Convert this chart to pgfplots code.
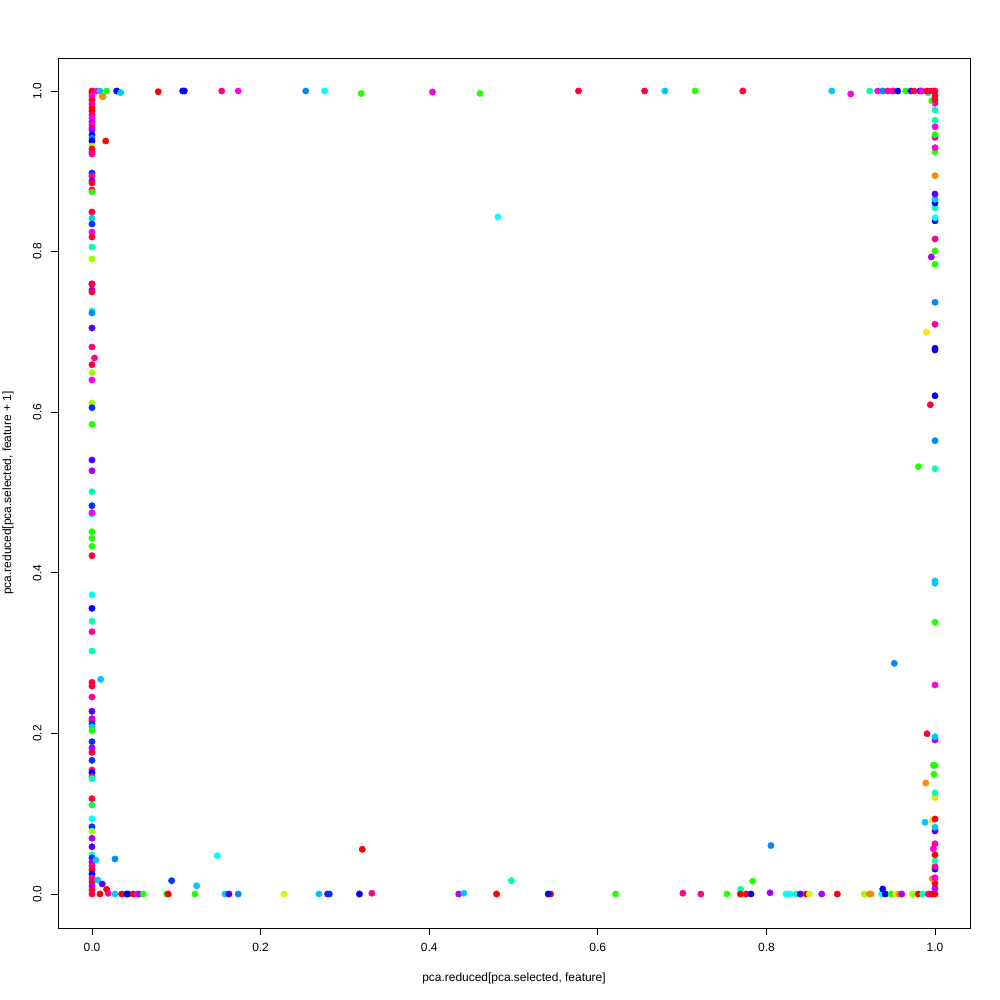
\documentclass[border=0pt]{standalone}
\usepackage{fontspec}
\setmainfont{Liberation Sans}
\usepackage{pgfplots}
\pgfplotsset{compat=1.18}
\usepackage{pgfplotstable}
\definecolor{cRd}{HTML}{FF0000}
\definecolor{cCr}{HTML}{FF0038}
\definecolor{cPk}{HTML}{FF0090}
\definecolor{cMg}{HTML}{FF00E6}
\definecolor{cPu}{HTML}{AA00FF}
\definecolor{cVi}{HTML}{5500FF}
\definecolor{cBl}{HTML}{0000FF}
\definecolor{cBb}{HTML}{0033FF}
\definecolor{cAz}{HTML}{0088FF}
\definecolor{cSk}{HTML}{00C8FF}
\definecolor{cCy}{HTML}{00FFFF}
\definecolor{cAq}{HTML}{00FFB0}
\definecolor{cSp}{HTML}{00FF55}
\definecolor{cGr}{HTML}{22FF00}
\definecolor{cLi}{HTML}{99FF00}
\definecolor{cCh}{HTML}{CCFF00}
\definecolor{cYe}{HTML}{FFE600}
\definecolor{cOr}{HTML}{FF8800}
\pgfplotstableread{
x y c
0 1.000 cr
0 0.9975 rd
0 0.9938 mg
0 0.9888 cr
0 0.9838 pk
0 0.9788 cr
0 0.9751 rd
0 0.9700 pk
0 0.9664 mg
0 0.9614 pu
0 0.9577 mg
0 0.9539 cr
0 0.9514 pu
0 0.9452 bl
0 0.9415 az
0 0.9377 bl
0.0163 0.9377 rd
0 0.9315 li
0 0.9277 cr
0 0.9240 cr
0 0.9215 pk
0 0.8979 bb
0 0.8941 pk
0 0.8879 vi
0 0.8854 cr
0 0.8767 cr
0 0.8742 gr
0 0.8493 cr
0 0.8418 sk
0 0.8344 bb
0 0.8244 mg
0 0.8182 cr
0 0.8057 aq
0 0.7908 li
0 0.7597 bl
0 0.7597 cr
0 0.7522 pu
0 0.7497 cr
0 0.7260 aq
0 0.7235 az
0 0.7049 vi
0 0.6812 pk
0.003 0.6675 pk
0 0.6592 cr
0 0.6492 li
0 0.6401 mg
0 0.6115 li
0 0.6056 bb
0 0.5849 gr
0 0.5405 vi
0 0.5271 pu
0 0.5010 aq
0 0.4836 bb
0 0.4732 cy
0 0.4748 mg
0 0.4512 gr
0 0.4430 gr
0 0.4330 gr
0 0.4213 cr
0 0.3727 cy
0 0.3558 bl
0 0.3396 aq
0 0.3266 pk
0 0.3026 aq
0.0103 0.2674 sk
0 0.2636 cr
0 0.2590 cr
0 0.2453 pk
0 0.2275 vi
0 0.2183 pu
0 0.2154 pk
0 0.2117 bb
0 0.2083 sk
0 0.2034 gr
0 0.1897 bb
0 0.1822 pu
0 0.1765 cr
0 0.1665 bb
0 0.1544 pk
0 0.1511 bl
0 0.1461 pk
0 0.1436 aq
0 0.1187 cr
0 0.1108 sp
0 0.0938 cy
0 0.0838 bb
0 0.0781 li
0 0.0694 pu
0 0.0589 vi
0 0.0486 aq
0 0.0450 bb
0 0.0400 pu
0 0.0350 pk
0 0.0300 cr
0 0.0250 bl
0 0.0200 pk
0 0.0150 cr
0 0.0100 pu
0 0.0050 cr
0 0.0000 cr
0.0273 0.0436 az
0.0047 0.0423 sk
0.0068 0.0174 sk
0.0122 0.0125 vi
0.0174 0.0059 rd
0.0193 0.0009 pk
0.0095 0 rd
0.0273 0 sk
0.0352 0 rd
0.0412 0 bl
0.0427 0 bl
0.0490 0 rd
0.0537 0 mg
0.0558 0 pu
0.0609 0 gr
0.0886 0 gr
0.0905 0 rd
0.1222 0 gr
0.1578 0 sk
0.1625 0 vi
0.1735 0 az
0.1486 0.0477 cy
0.0945 0.0166 bb
0.1242 0.0103 sk
0.2279 0 ch
0.3206 0.0557 rd
0.2692 0 sk
0.2794 0 vi
0.2815 0 bb
0.3173 0 bl
0.3320 0.001 pk
0.4350 0 pu
0.4411 0.001 sk
0.4799 0 rd
0.4975 0.0167 aq
0.5440 0 rd
0.5412 0 bl
0.6212 0 gr
0.7009 0.001 pk
0.7222 0 pk
0.7532 0 gr
0.7695 0.0060 aq
0.7691 0 rd
0.7760 0 rd
0.7817 0 bl
0.7838 0.0160 gr
0.8043 0.0015 pu
0.8054 0.0604 az
0.8247 0 cy
0.8232 0 cy
0.8280 0 cy
0.8359 0 aq
0.8402 0 vi
0.8470 0 rd
0.8509 0 ch
0.8656 0 pu
0.8841 0 rd
0.9161 0 li
0.9221 0 or
0.9241 0 or
0.9368 0 cy
0.9410 0 bl
0.9478 0 gr
0.9534 0 ye
0.9573 0 or
0.9605 0 pu
0.9735 0 li
0.9802 0 rd
0.9854 0 aq
0.9921 0 pk
0.9961 0 rd
0.9380 0.0062 bl
1 0 rd
1 0.0071 pu
1 0.0133 rd
0.9968 0.0191 or
1 0.0203 mg
1 0.0311 bl
1 0.0340 pk
1 0.0411 aq
1 0.0489 rd
0.998 0.0564 mg
1 0.0626 pk
1 0.0785 vi
1 0.0831 sk
0.9881 0.0893 sk
0.9968 0.0922 ye
1 0.0934 rd
1 0.1199 ye
1 0.1258 aq
0.9890 0.1382 or
0.9988 0.1491 gr
0.998 0.1603 gr
1 0.1603 gr
1 0.1918 pu
1 0.1959 sk
0.9905 0.1996 cr
1 0.2603 mg
0.9517 0.2873 az
1 0.3384 gr
1 0.3870 sk
1 0.3898 sk
1 0.5295 aq
0.9802 0.5321 gr
1 0.5645 az
0.9944 0.6093 cr
1 0.6205 bl
1 0.6775 bl
1 0.6796 bl
0.9897 0.6995 ye
1 0.7095 pk
1 0.7369 az
1 0.7842 gr
0.9956 0.7933 pu
1 0.8007 ye
1 0.8007 gr
1 0.8157 pk
1 0.8384 bl
1 0.8422 cy
1 0.8543 aq
1 0.8605 bl
1 0.8651 sk
1 0.8717 vi
1 0.8945 or
1 0.9240 gr
1 0.9294 mg
1 0.9423 pk
1 0.9456 gr
1 0.9555 mg
1 0.9635 aq
1 0.9763 aq
1 0.9847 mg
0.9961 0.9879 gr
1 0.9888 cr
1 0.9940 cr
1 1 cr
0.0056 1 mg
0.0095 1 sk
0.0174 1 gr
0.0134 0.9929 aq
0.0120 0.9935 or
0.0293 1 bl
0.0340 0.9979 sk
0.0786 0.9991 rd
0.1076 1 bl
0.1095 1 bl
0.1539 1 pk
0.1735 1 mg
0.2536 1 az
0.2760 1 cy
0.3193 0.9968 gr
0.4039 0.9988 mg
0.4603 0.9970 gr
0.5771 1 cr
0.6555 1 cr
0.6796 1 sk
0.7155 1 gr
0.7720 1 cr
0.8775 1 sk
0.9000 0.9963 mg
0.9225 1 aq
0.9320 1 mg
0.9380 1 az
0.9439 1 pk
0.9498 1 pk
0.9557 1 bl
0.9652 1 gr
0.9715 1 vi
0.9751 1 cr
0.9822 1 bl
0.9842 1 mg
0.9917 0.9975 aq
0.9902 1 cr
0.9941 1 cr
0.9976 1 cr
0.4816 0.8431 cy
}\pts
\begin{document}
\begin{tikzpicture}
\path[use as bounding box] (0,0) rectangle (1000bp,1000bp);
\begin{axis}[
  at={(58bp,72bp)}, anchor=south west,
  scale only axis, width=912bp, height=870bp,
  xmin=-0.0403, xmax=1.0415, ymin=-0.0423, ymax=1.0411,
  xtick={0,0.2,0.4,0.6,0.8,1}, ytick={0,0.2,0.4,0.6,0.8,1},
  tick align=outside, major tick length=7bp,
  xtick pos=bottom, ytick pos=left,
  axis line style={black, line width=0.75bp},
  tick style={black, line width=0.75bp},
  tick label style={font=\fontsize{12}{14}\selectfont},
  label style={font=\fontsize{12}{14}\selectfont},
  yticklabel style={rotate=90, anchor=south},
  xticklabel shift=5bp, yticklabel shift=6bp,
  /pgf/number format/.cd, fixed, fixed zerofill, precision=1, assume math mode=true,
  /pgfplots/.cd,
  xlabel={pca.reduced[pca.selected, feature]},
  ylabel={pca.reduced[pca.selected, feature + 1]},
  xlabel style={at={([yshift=-50bp]rel axis cs:0.5,0)}, anchor=center},
  ylabel style={at={([xshift=-50bp]rel axis cs:0,0.5)}, anchor=center},
  scatter/classes={
    rd={mark=*,cRd}, cr={mark=*,cCr}, pk={mark=*,cPk}, mg={mark=*,cMg},
    pu={mark=*,cPu}, vi={mark=*,cVi}, bl={mark=*,cBl}, bb={mark=*,cBb},
    az={mark=*,cAz}, sk={mark=*,cSk}, cy={mark=*,cCy}, aq={mark=*,cAq},
    sp={mark=*,cSp}, gr={mark=*,cGr}, li={mark=*,cLi}, ch={mark=*,cCh},
    ye={mark=*,cYe}, or={mark=*,cOr}},
]
\addplot[scatter, only marks, mark size=3.2bp, scatter src=explicit symbolic] table[x=x,y=y,meta=c]{\pts};
\end{axis}
\end{tikzpicture}
\end{document}
